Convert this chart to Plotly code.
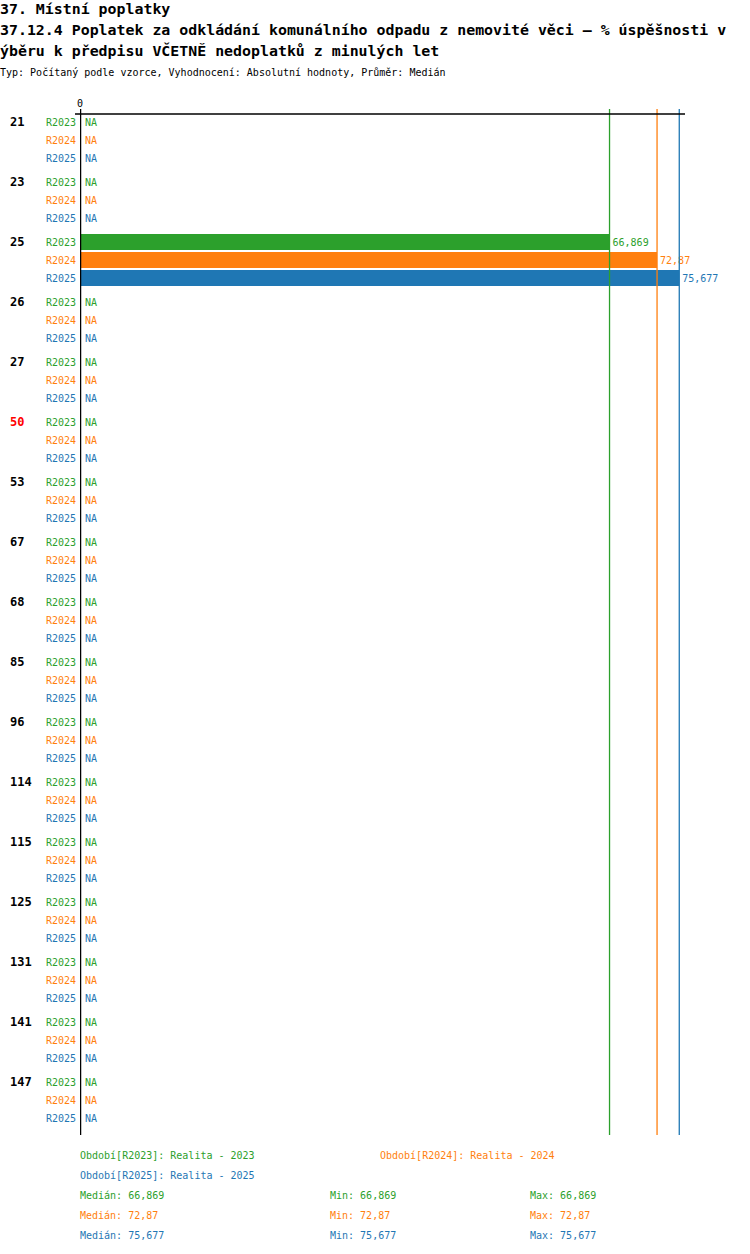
import plotly.graph_objects as go

# categories and values
groups = ["21", "23", "25", "26", "27", "50", "53", "67", "68", "85",
          "96", "114", "115", "125", "131", "141", "147"]
highlight = "50"
series = ["R2023", "R2024", "R2025"]
colors = ["#2ca02c", "#ff7f0e", "#1f77b4"]
legend_names = ["Období[R2023]: Realita - 2023",
                "Období[R2024]: Realita - 2024",
                "Období[R2025]: Realita - 2025"]

v2023 = [None, None, 66.869] + [None] * 14
v2024 = [None, None, 72.87] + [None] * 14
v2025 = [None, None, 75.677] + [None] * 14
values = [v2023, v2024, v2025]

medians = [66.869, 72.87, 75.677]
mins = [66.869, 72.87, 75.677]
maxs = [66.869, 72.87, 75.677]

title1 = "37. Místní poplatky"
title2 = "37.12.4 Poplatek za odkládání komunálního odpadu z nemovité věci – % úspěšnosti v"
title3 = "ýběru k předpisu VČETNĚ nedoplatků z minulých let"
subtitle = "Typ: Počítaný podle vzorce, Vyhodnocení: Absolutní hodnoty, Průměr: Medián"

# layout constants (pixels)
W, H = 750, 1254
LEFT, RIGHT, TOP, BOTTOM = 80, 685, 114, 1135
ROW = 18
GROUP = 60
FIRST = 8
PLOT_H = BOTTOM - TOP
MONO = "DejaVu Sans Mono"


def fmt(v):
    return str(v).replace(".", ",")


def pos(g, s):
    return FIRST + GROUP * g + ROW * s


fig = go.Figure()
ann = []

for s, name in enumerate(series):
    ys = [pos(g, s) for g in range(len(groups))]
    fig.add_trace(go.Bar(
        x=values[s], y=ys, orientation="h", width=16,
        marker=dict(color=colors[s], line=dict(width=0)),
        text=["" if v is None else fmt(v) for v in values[s]],
        textposition="outside", constraintext="none",
        textfont=dict(family=MONO, size=10, color=colors[s]),
        cliponaxis=False, hoverinfo="skip", name=name,
    ))
    # NA labels for missing values
    for y, v in zip(ys, values[s]):
        if v is None:
            ann.append(dict(
                text="NA", xref="x", yref="y", x=0, y=y, xanchor="left",
                yanchor="middle", xshift=3, showarrow=False,
                font=dict(family=MONO, size=10, color=colors[s]),
            ))


def top_text(txt, px_x, px_y, size, color="black", bold=False):
    ann.append(dict(
        text=f"<b>{txt}</b>" if bold else txt, xref="paper", yref="paper",
        x=0, y=1, xanchor="left", yanchor="middle",
        xshift=px_x - LEFT - 2, yshift=TOP - px_y, showarrow=False,
        font=dict(family=MONO, size=size, color=color),
    ))


top_text(title1, 0, 8.5, 14.9, bold=True)
top_text(title2, 0, 30, 14.9, bold=True)
top_text(title3, 0, 51, 14.9, bold=True)
top_text(subtitle, 0, 72.5, 10)

for g, lab in enumerate(groups):
    ann.append(dict(
        text=f"<b>{lab}</b>", xref="paper", yref="y", x=0, y=pos(g, 0),
        xanchor="left", yanchor="middle", xshift=8 - LEFT, showarrow=False,
        font=dict(family=MONO, size=12,
                  color="#ff0000" if lab == highlight else "black"),
    ))
    for s, name in enumerate(series):
        ann.append(dict(
            text=name, xref="paper", yref="y", x=0, y=pos(g, s),
            xanchor="right", yanchor="middle", xshift=-2, showarrow=False,
            font=dict(family=MONO, size=10, color=colors[s]),
        ))

# legend and statistics below the chart
top_text(legend_names[0], 80, 1155, 10, colors[0])
top_text(legend_names[1], 380, 1155, 10, colors[1])
top_text(legend_names[2], 80, 1175, 10, colors[2])
for s in range(len(series)):
    py = 1195 + 20 * s
    top_text(f"Medián: {fmt(medians[s])}", 80, py, 10, colors[s])
    top_text(f"Min: {fmt(mins[s])}", 330, py, 10, colors[s])
    top_text(f"Max: {fmt(maxs[s])}", 530, py, 10, colors[s])

shapes = []
line_top = 1 + 5 / PLOT_H
for s, m in enumerate(medians):
    shapes.append(dict(type="line", xref="x", yref="paper", x0=m, x1=m,
                       y0=0, y1=line_top, line=dict(color=colors[s], width=1.3)))
shapes.append(dict(type="line", xref="paper", yref="paper",
                   x0=-5 / (RIGHT - LEFT), x1=1, y0=1, y1=1,
                   line=dict(color="black", width=1.5)))
shapes.append(dict(type="line", xref="x", yref="paper", x0=0, x1=0,
                   y0=0, y1=line_top, line=dict(color="black", width=2.5)))

fig.update_layout(
    width=W, height=H,
    margin=dict(l=LEFT, r=W - RIGHT, t=TOP, b=H - BOTTOM, pad=0),
    plot_bgcolor="white", paper_bgcolor="white",
    barmode="overlay", showlegend=False, hovermode=False,
    font=dict(family=MONO, size=10, color="black"),
    xaxis=dict(range=[0, 76.4], side="top", tickvals=[0], ticktext=["0"],
               ticks="", showgrid=False, zeroline=False, showline=False,
               ticklabelstandoff=4, tickfont=dict(family=MONO, size=10)),
    yaxis=dict(range=[PLOT_H, 0], showticklabels=False, ticks="",
               showgrid=False, zeroline=False, showline=False),
    annotations=ann, shapes=shapes,
)

fig.write_html("out.html", config={"displayModeBar": False},
               post_script="document.body.style.margin='0';")
